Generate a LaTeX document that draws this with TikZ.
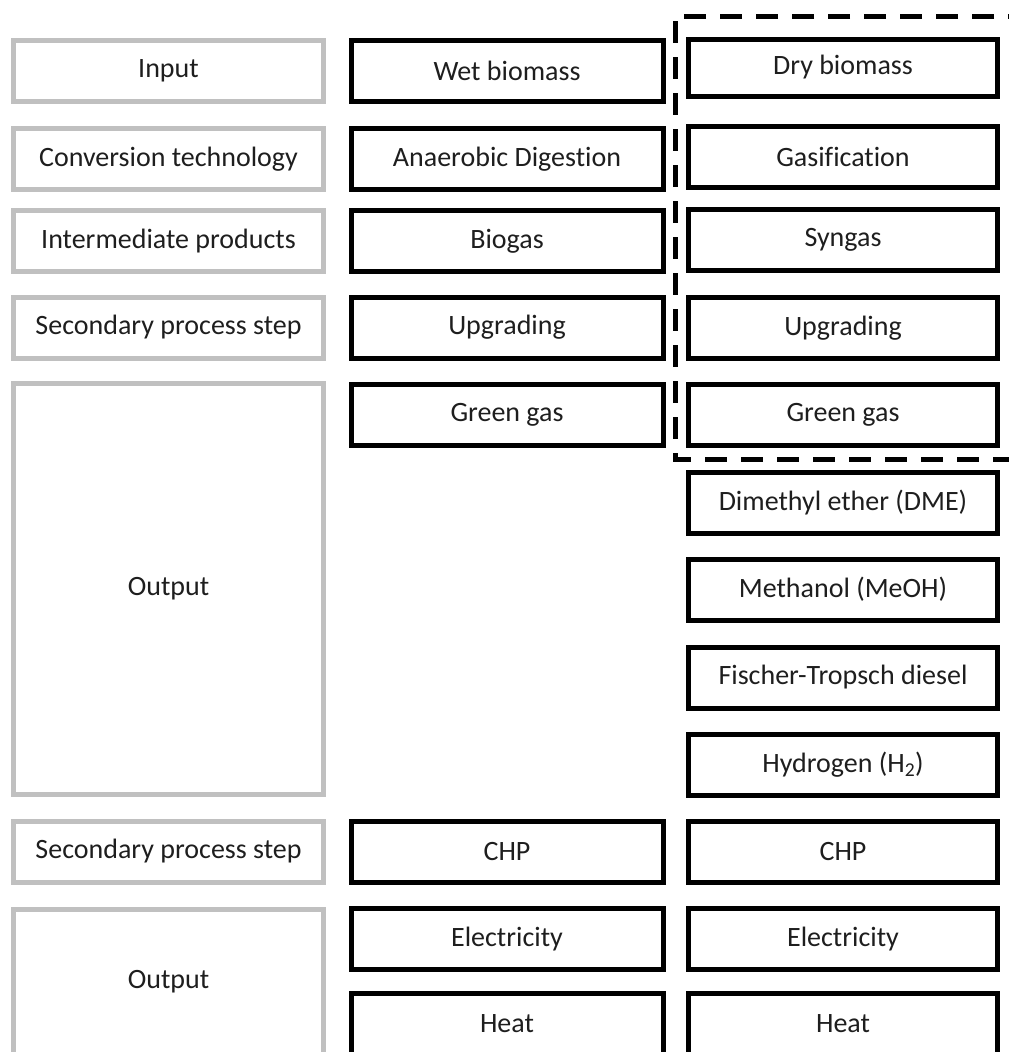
\documentclass[tikz,border=0pt]{standalone}
\usepackage{fontspec}
\setmainfont{Carlito}[Ligatures=NoCommon]
\definecolor{framegray}{RGB}{192,192,192}
\definecolor{textdark}{RGB}{30,30,30}

\begin{document}
\begin{tikzpicture}[x=1pt,y=-1pt,
		every node/.style={inner sep=0pt,text=textdark,font=\fontsize{28}{32}\selectfont},
		labelbox/.style={draw=framegray,line width=5pt,minimum width=310pt,minimum height=61pt},
		stepbox/.style={draw=black,line width=5pt,minimum width=312pt,minimum height=61pt},
		sidebox/.style={stepbox,minimum width=309pt},
		scopeline/.style={draw=black,line width=5pt,dash pattern=on 22pt off 14pt}]
		\useasboundingbox (0,0) rectangle (1009,1052);
		\clip (0,0) rectangle (1009,1052);
		% left column: row labels
		\node [labelbox] (inp) at (168.5,71) {Input};
		\node [labelbox] (conv) at (168.5,159) {Conversion technology};
		\node [labelbox] (inter) at (168.5,241) {Intermediate products};
		\node [labelbox] (sec1) at (168.5,327.5) {Secondary process step};
		\node [labelbox,minimum height=411pt] (out1) at (168.5,589) {Output};
		\node [labelbox] (sec2) at (168.5,851.5) {Secondary process step};
		\node [labelbox,minimum height=145pt] (out2) at (168.5,982) {Output};
		% middle column: wet route
		\node [stepbox] (wet) at (507,71) {Wet biomass};
		\node [stepbox] (ad) at (507,159) {Anaerobic Digestion};
		\node [stepbox] (biogas) at (507,241) {Biogas};
		\node [stepbox] (upg1) at (507,327.5) {Upgrading};
		\node [stepbox] (gg1) at (507,414.5) {Green gas};
		\node [stepbox] (chp1) at (507,851.5) {CHP};
		\node [stepbox] (el1) at (507,939) {Electricity};
		\node [stepbox] (heat1) at (507,1024) {Heat};
		% right column: dry route
		\node [sidebox,minimum height=57pt] (dry) at (843,67.5) {Dry biomass};
		\node [sidebox] (gasif) at (843,157) {Gasification};
		\node [sidebox] (syngas) at (843,240) {Syngas};
		\node [sidebox] (upg2) at (843,328) {Upgrading};
		\node [sidebox] (gg2) at (843,414.5) {Green gas};
		\node [sidebox] (dme) at (843,502.5) {Dimethyl ether (DME)};
		\node [sidebox] (meoh) at (843,589.5) {Methanol (MeOH)};
		\node [sidebox] (ft) at (843,677.5) {Fischer-Tropsch diesel};
		\node [sidebox] (htwo) at (843,764.5) {Hydrogen (H\textsubscript{2})};
		\node [sidebox] (chp2) at (843,851.5) {CHP};
		\node [sidebox] (el2) at (843,939) {Electricity};
		\node [sidebox] (heat2) at (843,1024) {Heat};
		% dashed frame round the green gas route
		\draw [scopeline] (1030,16) -- (675,16) -- (675,459) -- (1030,459);
	\end{tikzpicture}
\end{document}
